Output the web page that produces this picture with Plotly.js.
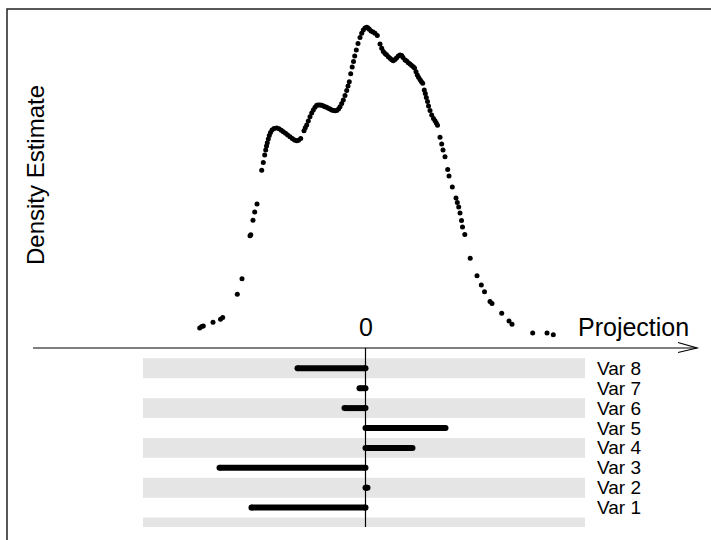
<!DOCTYPE html>
<html>
<head>
<meta charset="utf-8">
<script src="https://cdn.plot.ly/plotly-3.0.1.min.js"></script>
<style>html,body{margin:0;padding:0;background:#fff;}#chart{width:711px;height:540px;}</style>
</head>
<body>
<div id="chart"></div>
<script>
// Density estimate evaluated at each projected observation
const projX = [-1.658,-1.638,-1.622,-1.525,-1.45,-1.428,-1.282,-1.235,-1.155,-1.147,-1.125,-1.108,-1.085,-1.038,-1.022,-1.008,-0.998,-0.99,-0.982,-0.972,-0.962,-0.95,-0.935,-0.915,-0.888,-0.865,-0.842,-0.822,-0.8,-0.778,-0.755,-0.732,-0.71,-0.688,-0.67,-0.648,-0.615,-0.602,-0.588,-0.572,-0.555,-0.538,-0.522,-0.505,-0.488,-0.472,-0.455,-0.438,-0.42,-0.405,-0.388,-0.372,-0.355,-0.338,-0.32,-0.305,-0.288,-0.27,-0.255,-0.238,-0.222,-0.205,-0.188,-0.175,-0.162,-0.148,-0.133,-0.12,-0.108,-0.092,-0.075,-0.055,-0.038,-0.022,-0.005,0.012,0.025,0.038,0.055,0.075,0.095,0.118,0.145,0.162,0.178,0.195,0.21,0.228,0.245,0.262,0.278,0.295,0.31,0.328,0.345,0.362,0.375,0.395,0.412,0.428,0.445,0.462,0.478,0.49,0.505,0.518,0.53,0.545,0.558,0.572,0.588,0.598,0.608,0.62,0.63,0.645,0.662,0.68,0.695,0.708,0.72,0.745,0.762,0.775,0.795,0.822,0.835,0.868,0.905,0.918,0.932,0.945,0.96,0.97,0.993,1.047,1.115,1.158,1.19,1.245,1.265,1.362,1.435,1.465,1.672,1.815,1.878];
const density = [0.020,0.0215,0.022,0.0257,0.0287,0.0305,0.0537,0.0693,0.1123,0.1132,0.1277,0.136,0.144,0.1777,0.1855,0.193,0.198,0.202,0.2053,0.209,0.2125,0.2155,0.218,0.2195,0.22,0.2192,0.2177,0.2163,0.2147,0.213,0.2113,0.2095,0.208,0.2073,0.2077,0.2095,0.2173,0.2202,0.223,0.227,0.2313,0.235,0.238,0.2407,0.2427,0.243,0.243,0.2427,0.242,0.2413,0.2407,0.2397,0.239,0.238,0.2375,0.2373,0.2375,0.239,0.2413,0.2445,0.248,0.2525,0.2575,0.262,0.2663,0.2742,0.281,0.2865,0.292,0.298,0.3045,0.3105,0.3147,0.318,0.32,0.3207,0.32,0.3187,0.317,0.316,0.3147,0.3125,0.304,0.2997,0.2965,0.2945,0.2932,0.2913,0.2897,0.2882,0.2873,0.2885,0.29,0.292,0.293,0.2925,0.2905,0.288,0.287,0.2853,0.284,0.2825,0.2813,0.28,0.2763,0.273,0.2707,0.2685,0.2665,0.2647,0.258,0.2545,0.2505,0.2465,0.242,0.2375,0.233,0.2295,0.2273,0.225,0.2227,0.2107,0.204,0.198,0.1913,0.1785,0.172,0.161,0.15,0.1455,0.141,0.135,0.1275,0.121,0.1135,0.0897,0.0722,0.063,0.0563,0.0465,0.0445,0.0347,0.027,0.0237,0.015,0.015,0.0133];

// Projection coefficients of each variable
const varNames = ["Var 1","Var 2","Var 3","Var 4","Var 5","Var 6","Var 7","Var 8"];
const varRows  = [1,2,3,4,5,6,7,8];
const coefs    = [-1.14,0.02,-1.46,0.47,0.80,-0.21,-0.06,-0.68];
const stripeRows = [0,2,4,6,8];

const FONT = "Liberation Sans, Arial, Helvetica, sans-serif";
const NARROW = "Liberation Sans Narrow, Arial Narrow, Liberation Sans, sans-serif";

const traces = [{
  type: "scatter", mode: "markers", x: projX, y: density,
  xaxis: "x", yaxis: "y",
  marker: {color: "#000", size: 5}, hoverinfo: "skip"
}];
varNames.forEach((n, i) => {
  traces.push({
    type: "scatter", mode: "lines+markers",
    x: [coefs[i], 0], y: [varRows[i], varRows[i]],
    xaxis: "x", yaxis: "y2",
    line: {color: "#000", width: 6},
    marker: {color: "#000", size: 6},
    hoverinfo: "skip"
  });
});

const shapes = [];
// grey stripes
stripeRows.forEach(r => {
  shapes.push({type: "rect", xref: "x", yref: "y2", x0: -2.225, x1: 2.195,
    y0: r === 0 ? 0.02 : r - 0.5, y1: r + 0.5, fillcolor: "#e5e5e5", line: {width: 0}, layer: "below"});
});
// zero line through bars
shapes.push({type: "line", xref: "x", yref: "y", x0: 0, x1: 0, y0: 0, y1: -0.179,
  line: {color: "#000", width: 1.2}, layer: "below"});
// projection axis with arrow
shapes.push({type: "line", xref: "x", yref: "y", x0: -3.325, x1: 3.315, y0: 0, y1: 0,
  line: {color: "#000", width: 1.2}});
shapes.push({type: "path", xref: "x", yref: "y",
  path: "M 3.125 0.0055 L 3.315 0 L 3.125 -0.0045", line: {color: "#000", width: 1.2}});
// frame
shapes.push({type: "rect", xref: "paper", yref: "paper", x0: 7/711, x1: 1.05, y0: -0.05, y1: 1 - 9/540,
  line: {color: "#222", width: 1.5}, fillcolor: "rgba(0,0,0,0)"});

const annotations = [
  {xref: "x", yref: "y", x: 0, y: 0.021, text: "0", showarrow: false, xanchor: "center", yanchor: "middle",
   font: {family: FONT, size: 25, color: "#000"}},
  {xref: "x", yref: "y", x: 2.68, y: 0.021, text: "Projection", showarrow: false, xanchor: "center", yanchor: "middle",
   font: {family: FONT, size: 25, color: "#000"}},
  {xref: "x", yref: "y", x: -3.305, y: 0.173, text: "Density Estimate", textangle: -90, showarrow: false,
   xanchor: "center", yanchor: "middle", font: {family: FONT, size: 24, color: "#000"}}
];
varNames.forEach((n, i) => {
  annotations.push({xref: "x", yref: "y2", x: 2.295, y: varRows[i], text: n, showarrow: false,
    xanchor: "left", yanchor: "middle", font: {family: NARROW, size: 19, color: "#000"}});
});

const layout = {
  width: 711, height: 540,
  margin: {l: 0, r: 0, t: 0, b: 0},
  paper_bgcolor: "#fff", plot_bgcolor: "#fff",
  showlegend: false, hovermode: false,
  font: {family: FONT},
  xaxis: {range: [-3.655, 3.455], visible: false, showgrid: false, zeroline: false},
  yaxis: {range: [-0.192, 0.348], visible: false, showgrid: false, zeroline: false},
  yaxis2: {range: [-0.628, 26.508], overlaying: "y", visible: false, showgrid: false, zeroline: false},
  shapes: shapes,
  annotations: annotations
};

Plotly.newPlot("chart", traces, layout, {displayModeBar: false, staticPlot: true});
</script>
</body>
</html>
